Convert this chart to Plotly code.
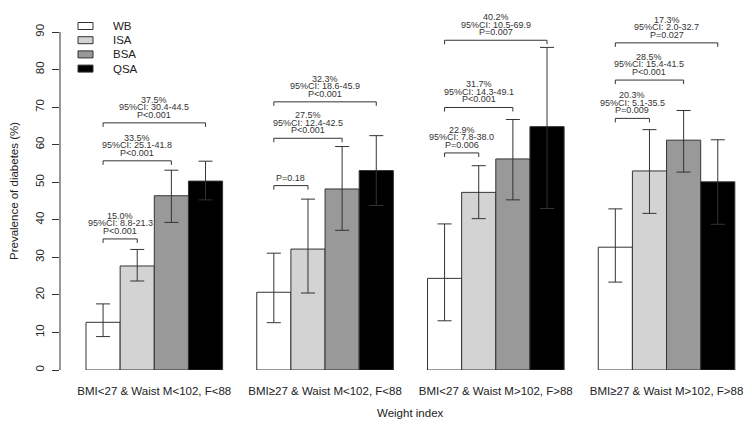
import plotly.graph_objects as go

# ---------------- data ----------------
groups = ["BMI<27 & Waist M<102, F<88", "BMI≥27 & Waist M<102, F<88",
          "BMI<27 & Waist M>102, F>88", "BMI≥27 & Waist M>102, F>88"]
series = ["WB", "ISA", "BSA", "QSA"]
colors = ["#ffffff", "#d3d3d3", "#999999", "#000000"]

WB = [12.7, 20.7, 24.4, 32.7]
ISA = [27.7, 32.2, 47.3, 53.0]
BSA = [46.4, 48.2, 56.2, 61.2]
QSA = [50.3, 53.1, 64.8, 50.1]

WB_lo = [8.9, 12.6, 13.1, 23.4]
WB_hi = [17.6, 31.1, 38.9, 42.9]
ISA_lo = [23.7, 20.5, 40.3, 41.7]
ISA_hi = [32.1, 45.5, 54.4, 64.0]
BSA_lo = [39.3, 37.2, 45.3, 52.7]
BSA_hi = [53.2, 59.5, 66.7, 69.1]
QSA_lo = [45.3, 43.8, 43.0, 38.8]
QSA_hi = [55.6, 62.4, 85.9, 61.3]

values = [WB, ISA, BSA, QSA]
lows = [WB_lo, ISA_lo, BSA_lo, QSA_lo]
highs = [WB_hi, ISA_hi, BSA_hi, QSA_hi]

# comparison brackets: (group, compared series index, bracket height, text lines)
comparisons = [
    (0, 1, 34.9, ["15.0%", "95%CI: 8.8-21.3", "P<0.001"]),
    (0, 2, 55.7, ["33.5%", "95%CI: 25.1-41.8", "P<0.001"]),
    (0, 3, 65.8, ["37.5%", "95%CI: 30.4-44.5", "P<0.001"]),
    (1, 1, 49.1, ["P=0.18"]),
    (1, 2, 61.7, ["27.5%", "95%CI: 12.4-42.5", "P<0.001"]),
    (1, 3, 71.4, ["32.3%", "95%CI: 18.6-45.9", "P<0.001"]),
    (2, 1, 57.8, ["22.9%", "95%CI: 7.8-38.0", "P=0.006"]),
    (2, 2, 69.9, ["31.7%", "95%CI: 14.3-49.1", "P<0.001"]),
    (2, 3, 87.8, ["40.2%", "95%CI: 10.5-69.9", "P=0.007"]),
    (3, 1, 67.0, ["20.3%", "95%CI: 5.1-35.5", "P=0.009"]),
    (3, 2, 77.2, ["28.5%", "95%CI: 15.4-41.5", "P<0.001"]),
    (3, 3, 87.1, ["17.3%", "95%CI: 2.0-32.7", "P=0.027"]),
]

yticks = [0, 10, 20, 30, 40, 50, 60, 70, 80, 90]

# ---------------- layout geometry ----------------
W, H = 752, 431
ML, MR, MT, MB = 60, 0, 6, 61
PXU_X = 34.15            # px per bar unit
PXU_Y = 338 / 90         # px per percent
X0 = 0.2387
XMAX = X0 + (W - ML - MR) / PXU_X
YMAX = (H - MT - MB) / PXU_Y

FONT = "Liberation Sans, Arial, sans-serif"
TXT = "#222222"


def xpos(g, s):
    return g * 5 + s + 1.5


def px2x(px):
    return X0 + (px - ML) / PXU_X


def py2y(py):
    return (H - MB - py) / PXU_Y


def px2paper(px):
    return (px - ML) / (W - ML - MR)


def py2paper(py):
    return (H - MB - py) / (H - MT - MB)


fig = go.Figure()
for s, name in enumerate(series):
    xs = [xpos(g, s) for g in range(len(groups))]
    fig.add_trace(go.Bar(
        x=xs, y=values[s], name=name, width=1.0,
        marker=dict(color=colors[s], line=dict(color="#333333", width=1)),
        error_y=dict(type="data", symmetric=False,
                     array=[h - v for h, v in zip(highs[s], values[s])],
                     arrayminus=[v - l for l, v in zip(lows[s], values[s])],
                     color="#333333", thickness=1, width=7),
        showlegend=False,
    ))

shapes = []
annotations = []
d = 4 / PXU_Y
for g, s, yb, lines in comparisons:
    x1, x2 = xpos(g, 0), xpos(g, s)
    shapes.append(dict(type="path", xref="x", yref="y",
                       path=f"M {x1},{yb - d} L {x1},{yb} L {x2},{yb} L {x2},{yb - d}",
                       line=dict(color="#333333", width=1)))
    n = len(lines)
    for i, t in enumerate(lines):
        k = n - 1 - i
        annotations.append(dict(x=(x1 + x2) / 2, y=yb, xref="x", yref="y",
                                text=t, showarrow=False, yanchor="middle",
                                xanchor="center", yshift=8 + 7.6 * k,
                                font=dict(family=FONT, size=9, color="#333333")))

# y axis line (R style: only from first to last tick)
shapes.append(dict(type="line", xref="paper", yref="y", x0=0, x1=0,
                   y0=yticks[0], y1=yticks[-1], line=dict(color="#333333", width=1)))

# legend
leg_cy = [26, 40.2, 54.4, 68.6]
for s, name in enumerate(series):
    cy = leg_cy[s]
    shapes.append(dict(type="rect", xref="x", yref="y",
                       x0=px2x(78), x1=px2x(93), y0=py2y(cy + 3.5), y1=py2y(cy - 3.5),
                       fillcolor=colors[s], line=dict(color="#333333", width=1)))
    annotations.append(dict(x=px2x(111), y=py2y(cy), xref="x", yref="y", text=name,
                            showarrow=False, xanchor="left", yanchor="middle",
                            font=dict(family=FONT, size=11.5, color=TXT)))

# axis titles
annotations.append(dict(x=px2paper(14), y=py2paper(191), xref="paper", yref="paper",
                        text="Prevalence of diabetes (%)", textangle=-90,
                        showarrow=False, xanchor="center", yanchor="middle",
                        font=dict(family=FONT, size=11.5, color=TXT)))
annotations.append(dict(x=px2paper(410), y=py2paper(413), xref="paper", yref="paper",
                        text="Weight index", showarrow=False,
                        xanchor="center", yanchor="middle",
                        font=dict(family=FONT, size=11.5, color=TXT)))

fig.update_layout(
    width=W, height=H,
    margin=dict(l=ML, r=MR, t=MT, b=MB, pad=0),
    paper_bgcolor="white", plot_bgcolor="white",
    barmode="overlay",
    shapes=shapes, annotations=annotations,
    xaxis=dict(range=[X0, XMAX], tickvals=[g * 5 + 3 for g in range(len(groups))],
               ticktext=groups, ticks="", showline=False, showgrid=False,
               zeroline=False, tickfont=dict(family=FONT, size=11.5, color=TXT),
               ticklabelstandoff=12, automargin=False),
    yaxis=dict(range=[0, YMAX], tickvals=yticks, ticks="outside", ticklen=7,
               tickcolor="#333333", tickangle=-90, showline=False, showgrid=False,
               zeroline=False, tickfont=dict(family=FONT, size=11.5, color=TXT),
               ticklabelstandoff=3, automargin=False),
)

fig.write_html("out.html", config={"displayModeBar": False},
               post_script="document.body.style.margin='0px';document.body.style.overflow='hidden';")
